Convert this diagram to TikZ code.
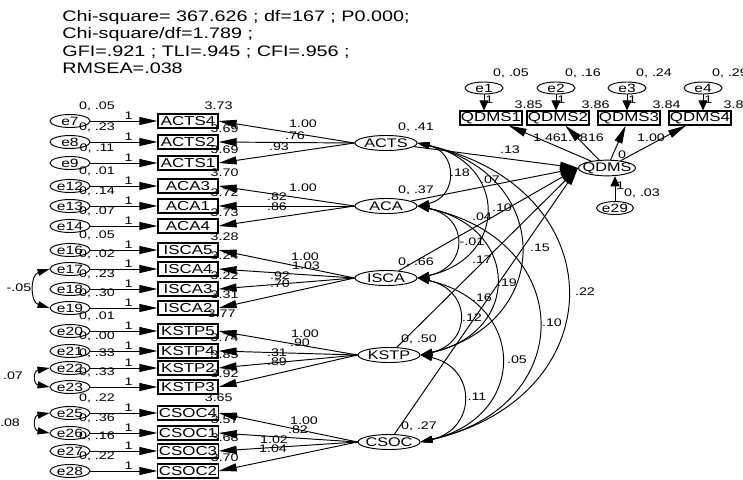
\documentclass[tikz,border=0pt]{standalone}
\usepackage{fontspec}
\setmainfont{Liberation Sans}[FakeStretch=1.3]
\usetikzlibrary{arrows.meta,shapes.geometric}
\begin{document}
\begin{tikzpicture}[x=1pt, y=-1pt, line width=0.95pt, >={Triangle[length=18pt,width=8pt]}]
  \tikzstyle{err}=[ellipse, draw, minimum width=40pt, minimum height=13pt, inner sep=0pt, font=\fontsize{12}{13}\selectfont]
  \tikzstyle{obs}=[rectangle, draw, line width=1.2pt, minimum width=60pt, minimum height=14pt, inner sep=1pt, font=\fontsize{13}{14}\selectfont]
  \tikzstyle{lat}=[ellipse, draw, minimum width=62pt, minimum height=15pt, inner ysep=0pt, inner xsep=-4pt, font=\fontsize{12.5}{14}\selectfont]
  \tikzstyle{est}=[inner sep=1pt, font=\fontsize{11}{12}\selectfont]
  \tikzstyle{vlab}=[est, xshift=27pt, yshift=2pt]
  \tikzstyle{lvar}=[est, xshift=30pt, yshift=2pt]
  \tikzstyle{intc}=[est, anchor=south, xshift=6pt]
  \tikzstyle{intf}=[intc, xshift=-6pt, yshift=2pt]
  \tikzstyle{one}=[est, above, pos=.57]
  \tikzstyle{va}=[-{Triangle[length=10pt,width=9pt]}]
  \tikzstyle{cov}=[{Triangle[length=12pt,width=7pt]}-{Triangle[length=12pt,width=7pt]}]
  \useasboundingbox (0,0) rectangle (743,479);
  \node[anchor=north west, align=left, inner sep=0pt, font=\fontsize{15.2}{17.5}\selectfont] (fitidx) at (62,10)
    {Chi-square= 367.626 ; df=167 ; P0.000;\\ Chi-square/df=1.789 ;\\ GFI=.921 ; TLI=.945 ; CFI=.956 ;\\ RMSEA=.038};
  % error terms and indicators
  \node[err, label={[vlab]north:{0, .05}}] (e7) at (70,121) {e7};
  \node[err, label={[vlab]north:{0, .23}}] (e8) at (70,142) {e8};
  \node[err, label={[vlab]north:{0, .11}}] (e9) at (70,163) {e9};
  \node[err, label={[vlab]north:{0, .01}}] (e12) at (70,186) {e12};
  \node[err, label={[vlab]north:{0, .14}}] (e13) at (70,206) {e13};
  \node[err, label={[vlab]north:{0, .07}}] (e14) at (70,226) {e14};
  \node[err, label={[vlab]north:{0, .05}}] (e16) at (70,250) {e16};
  \node[err, label={[vlab]north:{0, .02}}] (e17) at (70,269) {e17};
  \node[err, label={[vlab]north:{0, .23}}] (e18) at (70,289) {e18};
  \node[err, label={[vlab]north:{0, .30}}] (e19) at (70,308) {e19};
  \node[err, label={[vlab]north:{0, .01}}] (e20) at (70,331) {e20};
  \node[err, label={[vlab]north:{0, .00}}] (e21) at (70,351) {e21};
  \node[err, label={[vlab]north:{0, .33}}] (e22) at (70,368) {e22};
  \node[err, label={[vlab]north:{0, .33}}] (e23) at (70,387) {e23};
  \node[err, label={[vlab]north:{0, .22}}] (e25) at (70,413) {e25};
  \node[err, label={[vlab]north:{0, .36}}] (e26) at (70,433) {e26};
  \node[err, label={[vlab]north:{0, .16}}] (e27) at (70,451) {e27};
  \node[err, label={[vlab]north:{0, .22}}] (e28) at (70,471) {e28};
  \node[obs, label={[intf]north east:3.73}] (ACTS4) at (188,121) {ACTS4};
  \node[obs, label={[intc]north east:3.69}] (ACTS2) at (188,142) {ACTS2};
  \node[obs, label={[intc]north east:3.69}] (ACTS1) at (188,163) {ACTS1};
  \node[obs, label={[intc]north east:3.70}] (ACA3) at (188,186) {ACA3};
  \node[obs, label={[intc]north east:3.72}] (ACA1) at (188,206) {ACA1};
  \node[obs, label={[intc]north east:3.73}] (ACA4) at (188,226) {ACA4};
  \node[obs, label={[intc]north east:3.28}] (ISCA5) at (188,250) {ISCA5};
  \node[obs, label={[intc]north east:3.24}] (ISCA4) at (188,269) {ISCA4};
  \node[obs, label={[intc]north east:3.22}] (ISCA3) at (188,289) {ISCA3};
  \node[obs, label={[intc]north east:3.31}] (ISCA2) at (188,308) {ISCA2};
  \node[obs, label={[intc,xshift=-3pt,yshift=4pt]north east:3.77}] (KSTP5) at (188,331) {KSTP5};
  \node[obs, label={[intc]north east:3.74}] (KSTP4) at (188,351) {KSTP4};
  \node[obs, label={[intc]north east:3.85}] (KSTP2) at (188,368) {KSTP2};
  \node[obs, label={[intc]north east:3.92}] (KSTP3) at (188,387) {KSTP3};
  \node[obs, label={[intf]north east:3.65}] (CSOC4) at (188,413) {CSOC4};
  \node[obs, label={[intc]north east:3.57}] (CSOC1) at (188,433) {CSOC1};
  \node[obs, label={[intc]north east:3.68}] (CSOC3) at (188,451) {CSOC3};
  \node[obs, label={[intc]north east:3.70}] (CSOC2) at (188,471) {CSOC2};
  % latent factors
  \node[lat, label={[lvar]north:{0, .41}}] (ACTS) at (386,143) {ACTS};
  \node[lat, label={[lvar]north:{0, .37}}] (ACA) at (386,206) {ACA};
  \node[lat, label={[lvar]north:{0, .66}}] (ISCA) at (386,278) {ISCA};
  \node[lat, label={[lvar]north:{0, .50}}] (KSTP) at (389,355) {KSTP};
  \node[lat, label={[lvar]north:{0, .27}}] (CSOC) at (389,442) {CSOC};
  \node[lat, minimum width=57pt, inner xsep=-5pt, label={[est,xshift=15pt]north:0}] (QDMS) at (607,168) {QDMS};
  \node[err, minimum width=36pt, label={[vlab]north:{0, .03}}] (e29) at (615,208) {e29};
  \node[err, minimum width=38pt, minimum height=12pt, label={[vlab]north:{0, .05}}] (e1) at (484,88) {e1};
  \node[err, minimum width=38pt, minimum height=12pt, label={[vlab]north:{0, .16}}] (e2) at (556,88) {e2};
  \node[err, minimum width=38pt, minimum height=12pt, label={[vlab]north:{0, .24}}] (e3) at (627,88) {e3};
  \node[err, minimum width=38pt, minimum height=12pt, label={[vlab]north:{0, .29}}] (e4) at (703,88) {e4};
  \node[obs, minimum width=58pt, label={[intc]north east:3.85}] (QDMS1) at (491,118) {QDMS1};
  \node[obs, minimum width=58pt, label={[intc]north east:3.86}] (QDMS2) at (558,118) {QDMS2};
  \node[obs, minimum width=58pt, label={[intc]north east:3.84}] (QDMS3) at (629,118) {QDMS3};
  \node[obs, minimum width=58pt, label={[intc]north east:3.86}] (QDMS4) at (700,118) {QDMS4};
  % error paths
  \draw[->] (e7) -- node[one]{1} (ACTS4);
  \draw[->] (e8) -- node[one]{1} (ACTS2);
  \draw[->] (e9) -- node[one]{1} (ACTS1);
  \draw[->] (e12) -- node[one]{1} (ACA3);
  \draw[->] (e13) -- node[one]{1} (ACA1);
  \draw[->] (e14) -- node[one]{1} (ACA4);
  \draw[->] (e16) -- node[one]{1} (ISCA5);
  \draw[->] (e17) -- node[one]{1} (ISCA4);
  \draw[->] (e18) -- node[one]{1} (ISCA3);
  \draw[->] (e19) -- node[one]{1} (ISCA2);
  \draw[->] (e20) -- node[one]{1} (KSTP5);
  \draw[->] (e21) -- node[one]{1} (KSTP4);
  \draw[->] (e22) -- node[one]{1} (KSTP2);
  \draw[->] (e23) -- node[one]{1} (KSTP3);
  \draw[->] (e25) -- node[one]{1} (CSOC4);
  \draw[->] (e26) -- node[one]{1} (CSOC1);
  \draw[->] (e27) -- node[one]{1} (CSOC3);
  \draw[->] (e28) -- node[one]{1} (CSOC2);
  \draw[cov] (e17.west) .. controls (30,275) and (30,302) .. (e19.west) node[est] at (19,288) {-.05};
  \draw[cov] (e22.west) .. controls (33,371) and (33,384) .. (e23.west) node[est] at (13,376) {.07};
  \draw[cov] (e25.west) .. controls (33,416) and (33,430) .. (e26.west) node[est] at (10,423) {.08};
  % loadings
  \draw[->] (ACTS.west) -- (ACTS4.east) node[est] at (303,124) {1.00};
  \draw[->] (ACTS.west) -- (ACTS2.east) node[est] at (295,136) {.76};
  \draw[->] (ACTS.west) -- (ACTS1.east) node[est] at (279,147) {.93};
  \draw[->] (ACA.west) -- (ACA3.east) node[est] at (303,188) {1.00};
  \draw[->] (ACA.west) -- (ACA1.east) node[est] at (277,197) {.82};
  \draw[->] (ACA.west) -- (ACA4.east) node[est] at (277,207) {.86};
  \draw[->] (ISCA.west) -- (ISCA5.east) node[est] at (305,257) {1.00};
  \draw[->] (ISCA.west) -- (ISCA4.east) node[est] at (306,266) {1.03};
  \draw[->] (ISCA.west) -- (ISCA3.east) node[est] at (280,276) {.92};
  \draw[->] (ISCA.west) -- (ISCA2.east) node[est] at (280,284) {.70};
  \draw[->] (KSTP.west) -- (KSTP5.east) node[est] at (305,334) {1.00};
  \draw[->] (KSTP.west) -- (KSTP4.east) node[est] at (300,343) {.90};
  \draw[->] (KSTP.west) -- (KSTP2.east) node[est] at (277,353) {.31};
  \draw[->] (KSTP.west) -- (KSTP3.east) node[est] at (277,362) {.89};
  \draw[->] (CSOC.west) -- (CSOC4.east) node[est] at (304,421) {1.00};
  \draw[->] (CSOC.west) -- (CSOC1.east) node[est] at (298,430) {.82};
  \draw[->] (CSOC.west) -- (CSOC3.east) node[est] at (274,440) {1.02};
  \draw[->] (CSOC.west) -- (CSOC2.east) node[est] at (273,449) {1.04};
  % outcome side
  \draw[va] (e1) -- node[est, right, pos=.3]{1} (e1 |- QDMS1.north);
  \draw[va] (e2) -- node[est, right, pos=.3]{1} (e2 |- QDMS2.north);
  \draw[va] (e3) -- node[est, right, pos=.3]{1} (e3 |- QDMS3.north);
  \draw[va] (e4) -- node[est, right, pos=.3]{1} (e4 |- QDMS4.north);
  \draw[va] (e29) -- node[est, right, pos=.6]{1} (e29 |- QDMS.south);
  \draw[->] (QDMS) -- (QDMS1) node[est] at (547,138) {1.46};
  \draw[->] (QDMS) -- (QDMS2) node[est] at (574,138) {1.78};
  \draw[->] (QDMS) -- (QDMS3) node[est] at (594,138) {.16};
  \draw[->] (QDMS) -- (QDMS4) node[est] at (651,138) {1.00};
  \draw[->] (ACTS) -- (QDMS.west) node[est] at (510,150) {.13};
  \draw[->] (ACA) -- (QDMS.west) node[est] at (502,208) {.10};
  \draw[->] (ISCA) -- (QDMS.west) node[est] at (482,217) {.04};
  \draw[->] (KSTP) -- (QDMS.west) node[est] at (507,283) {.19};
  \draw[->] (CSOC) -- (QDMS.west) node[est] at (482,298) {.16};
  % covariances
  \draw[cov] (ACTS.east) .. controls (458,152) and (458,197) .. (ACA.east) node[est] at (460,173) {.18};
  \draw[cov] (ACA.east) .. controls (469,217) and (469,267) .. (ISCA.east) node[est] at (472,242) {-.01};
  \draw[cov] (ISCA.east) .. controls (472,290) and (472,343) .. (KSTP.east) node[est] at (472,318) {.12};
  \draw[cov] (KSTP.east) .. controls (477,368) and (477,429) .. (CSOC.east) node[est] at (477,397) {.11};
  \draw[cov] (ACTS.east) .. controls (508,163) and (508,258) .. (ISCA.east) node[est] at (490,180) {.07};
  \draw[cov] (ACA.east) .. controls (521,228) and (521,333) .. (KSTP.east) node[est] at (482,260) {.17};
  \draw[cov] (ISCA.east) .. controls (528,303) and (528,417) .. (CSOC.east) node[est] at (517,360) {.05};
  \draw[cov] (ACTS.east) .. controls (554,175) and (554,323) .. (KSTP.east) node[est] at (540,248) {.15};
  \draw[cov] (ACA.east) .. controls (578,241) and (578,407) .. (CSOC.east) node[est] at (552,323) {.10};
  \draw[cov] (ACTS.east) .. controls (616,188) and (616,397) .. (CSOC.east) node[est] at (585,292) {.22};
\end{tikzpicture}
\end{document}
